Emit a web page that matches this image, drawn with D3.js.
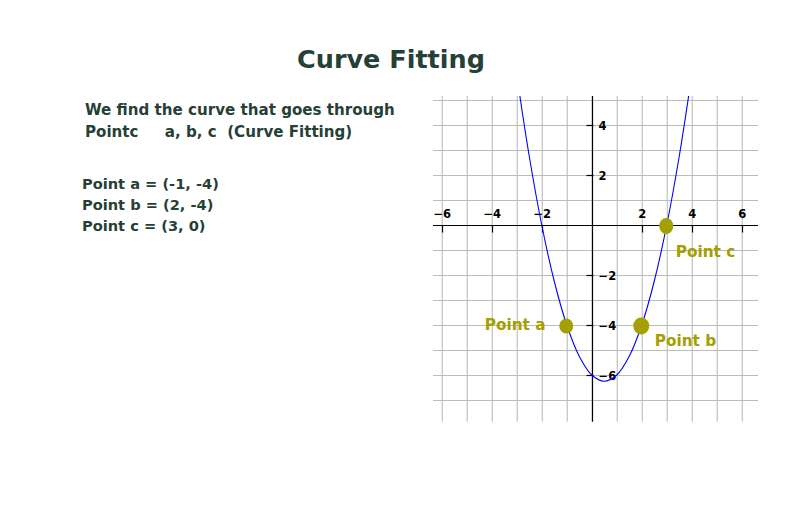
<!DOCTYPE html>
<html>
<head>
<meta charset="utf-8">
<script src="https://cdn.jsdelivr.net/npm/d3@7"></script>
<style>
  html, body { margin: 0; padding: 0; background: #ffffff; }
  svg { display: block; }
</style>
</head>
<body>
<script>
// ---- data ----
const titleText = "Curve Fitting";
const introLines = ["We find the curve that goes through", "Pointc     a, b, c  (Curve Fitting)"];
const pointLines = ["Point a = (-1, -4)", "Point b = (2, -4)", "Point c = (3, 0)"];

const pointNames = ["Point a", "Point b", "Point c"];
const pointX = [-1, 2, 3];
const pointY = [-4, -4, 0];

// curve
const curveX = [-3, -2.5, -2, -1.5, -1, -0.5, 0, 0.5, 1, 1.5, 2, 2.5, 3, 3.5, 4];
const curveY = [6, 2.75, 0, -2.25, -4, -5.25, -6, -6.25, -6, -5.25, -4, -2.25, 0, 2.75, 6];

const xGrid = [-6, -5, -4, -3, -2, -1, 0, 1, 2, 3, 4, 5, 6];
const yGrid = [5, 4, 3, 2, 1, 0, -1, -2, -3, -4, -5, -6, -7];
const xTickVals = [-6, -4, -2, 2, 4, 6];
const yTickVals = [4, 2, -2, -4, -6];

// ---- drawing ----
const W = 799, H = 525;
const svg = d3.select("body").append("svg").attr("width", W).attr("height", H);

const textColor = "#263f37";
const olive = "#a3a000";
const font = "'DejaVu Sans', Verdana, sans-serif";

svg.append("text")
  .attr("x", 391).attr("y", 68)
  .attr("text-anchor", "middle")
  .attr("font-family", font).attr("font-weight", "bold").attr("font-size", 25.5)
  .attr("fill", textColor)
  .text(titleText);

svg.selectAll("text.intro").data(introLines).join("text")
  .attr("class", "intro")
  .attr("x", 85).attr("y", (d, i) => 115 + i * 22)
  .attr("font-family", font).attr("font-weight", "bold").attr("font-size", 15.1)
  .attr("fill", textColor)
  .attr("xml:space", "preserve").style("white-space", "pre")
  .text(d => d);

svg.selectAll("text.pts").data(pointLines).join("text")
  .attr("class", "pts")
  .attr("x", 82).attr("y", (d, i) => 189 + i * 21)
  .attr("font-family", font).attr("font-weight", "bold").attr("font-size", 14.6)
  .attr("fill", textColor)
  .text(d => d);

// scales
const x = d3.scaleLinear().domain([-6.35, 6.65]).range([433, 758]);
const y = d3.scaleLinear().domain([5.16, -7.87]).range([96, 421.75]);

const g = svg.append("g");

// grid
g.selectAll("line.vg").data(xGrid).join("line")
  .attr("x1", d => x(d) + 0.5).attr("x2", d => x(d) + 0.5)
  .attr("y1", y.range()[0]).attr("y2", y.range()[1])
  .attr("stroke", "#bbbbbb").attr("stroke-width", 1.1);
g.selectAll("line.hg").data(yGrid).join("line")
  .attr("y1", d => y(d) + 0.5).attr("y2", d => y(d) + 0.5)
  .attr("x1", x.range()[0]).attr("x2", x.range()[1])
  .attr("stroke", "#bbbbbb").attr("stroke-width", 1.1);

// axes
const x0 = Math.round(x(0)) + 0.5, y0 = Math.round(y(0)) + 0.5;
g.append("line").attr("x1", x.range()[0]).attr("x2", x.range()[1])
  .attr("y1", y0).attr("y2", y0).attr("stroke", "#000").attr("stroke-width", 1.2);
g.append("line").attr("x1", x0).attr("x2", x0)
  .attr("y1", y.range()[0]).attr("y2", y.range()[1]).attr("stroke", "#000").attr("stroke-width", 1.2);

const fmt = d3.format("d");
// x ticks
g.selectAll("line.xt").data(xTickVals).join("line")
  .attr("x1", d => Math.round(x(d)) + 0.5).attr("x2", d => Math.round(x(d)) + 0.5)
  .attr("y1", y0).attr("y2", y0 + 7).attr("stroke", "#000").attr("stroke-width", 1.2);
g.selectAll("text.xt").data(xTickVals).join("text")
  .attr("x", d => x(d) + 0.5).attr("y", y0 - 8)
  .attr("text-anchor", "middle")
  .attr("font-family", font).attr("font-weight", "bold").attr("font-size", 11.5)
  .attr("fill", "#000")
  .text(d => fmt(d));
// y ticks
g.selectAll("line.yt").data(yTickVals).join("line")
  .attr("y1", d => Math.round(y(d)) + 0.5).attr("y2", d => Math.round(y(d)) + 0.5)
  .attr("x1", x0 - 6).attr("x2", x0 + 1).attr("stroke", "#000").attr("stroke-width", 1.2);
g.selectAll("text.yt").data(yTickVals).join("text")
  .attr("x", x0 + 6).attr("y", d => y(d) + 4.5)
  .attr("font-family", font).attr("font-weight", "bold").attr("font-size", 11.5)
  .attr("fill", "#000")
  .text(d => fmt(d));

// clip for curve
svg.append("clipPath").attr("id", "plotclip").append("rect")
  .attr("x", x.range()[0]).attr("y", y.range()[0])
  .attr("width", x.range()[1] - x.range()[0]).attr("height", y.range()[1] - y.range()[0]);

const curveData = curveX.map((v, i) => [v, curveY[i]]);
g.append("path")
  .datum(curveData)
  .attr("clip-path", "url(#plotclip)")
  .attr("fill", "none").attr("stroke", "#0000ff").attr("stroke-width", 1.1)
  .attr("d", d3.line().x(d => x(d[0])).y(d => y(d[1])).curve(d3.curveCatmullRom.alpha(0.5)));

// points
const pts = pointX.map((v, i) => ({ x: v, y: pointY[i], name: pointNames[i] }));
const pRx = [7, 8, 7], pRy = [7.5, 8.5, 8];
g.selectAll("ellipse.pt").data(pts).join("ellipse")
  .attr("cx", d => x(d.x) - 0.5).attr("cy", d => y(d.y) + 1)
  .attr("rx", (d, i) => pRx[i]).attr("ry", (d, i) => pRy[i])
  .attr("fill", olive);

// labels
const lblDx = [-82, 13, 9], lblDy = [5, 21, 32];
g.selectAll("text.pl").data(pts).join("text")
  .attr("x", (d, i) => x(d.x) + lblDx[i]).attr("y", (d, i) => y(d.y) + lblDy[i])
  .attr("font-family", font).attr("font-weight", "bold").attr("font-size", 15.3)
  .attr("fill", olive)
  .text(d => d.name);
</script>
</body>
</html>
